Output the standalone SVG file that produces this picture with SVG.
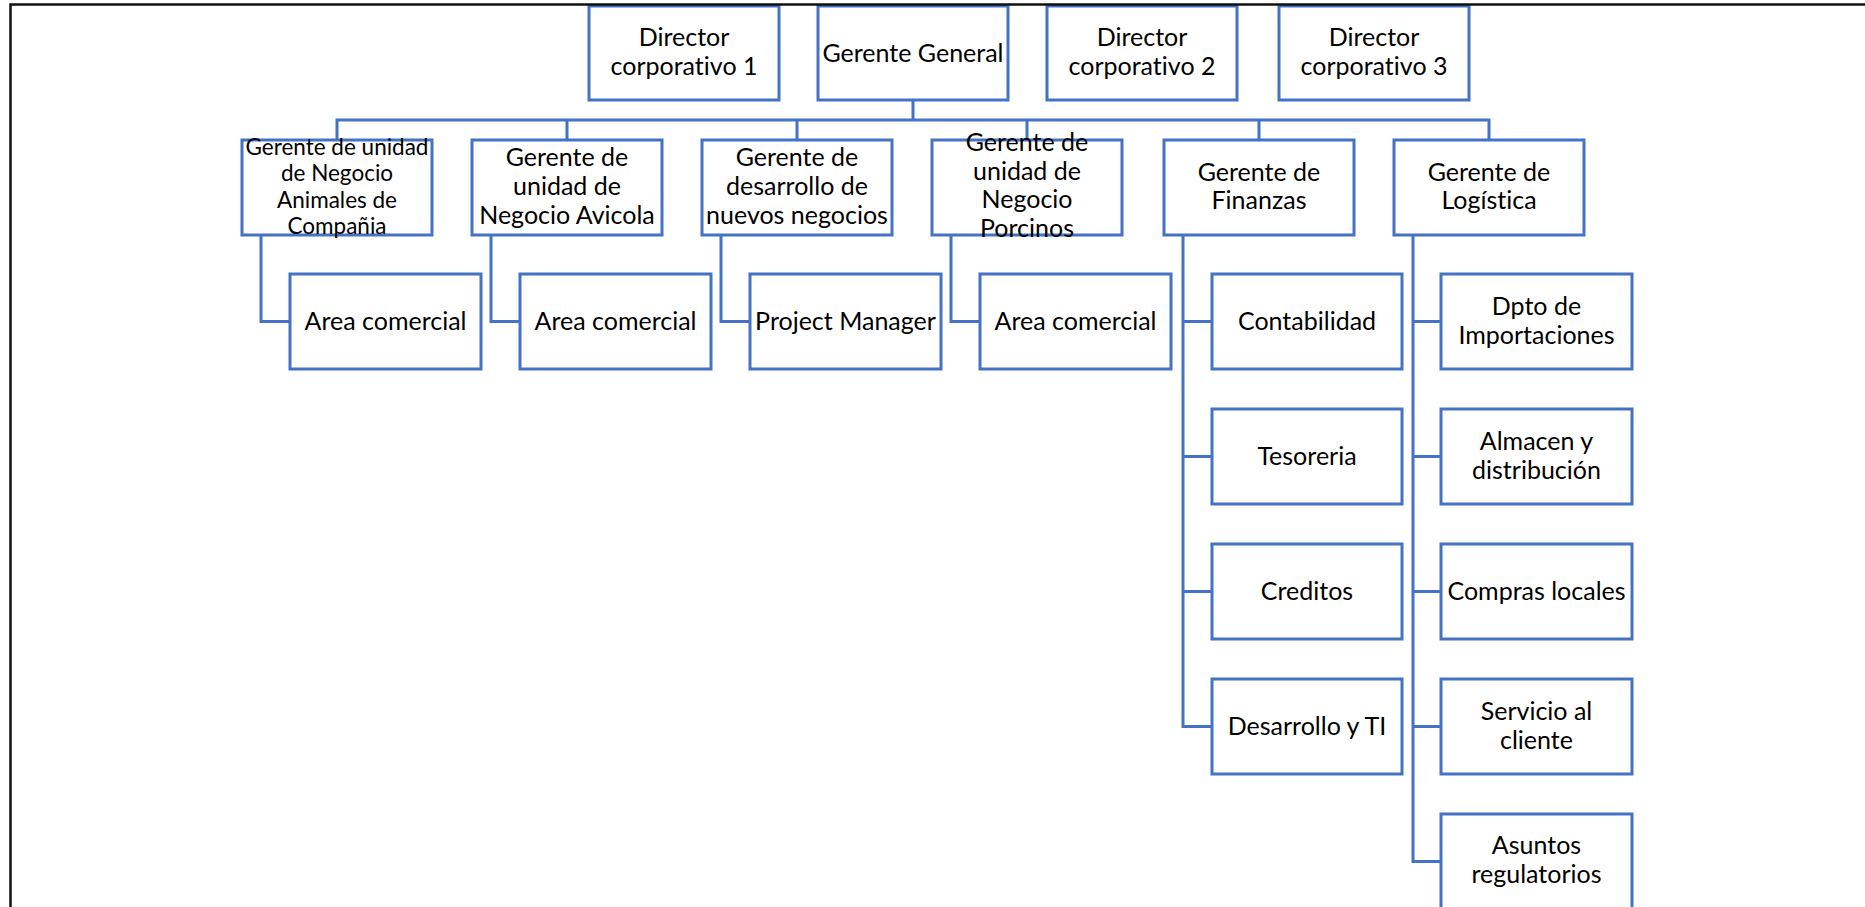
<svg xmlns="http://www.w3.org/2000/svg" width="1865" height="907" viewBox="0 0 1865 907">
<style>
.box{fill:#ffffff;stroke:#4472C4;stroke-width:3}
.ln{fill:none;stroke:#4472C4;stroke-width:3}
.t{font-family:Lato,"Liberation Sans",sans-serif;font-size:25px;fill:#000000;text-anchor:middle;font-variant-ligatures:none;font-feature-settings:"liga" 0,"dlig" 0}
.s{font-size:22.5px}
.frame{fill:none;stroke:#111111;stroke-width:2.5}
</style>
<rect x="0" y="0" width="1865" height="907" fill="#ffffff"/>

<g id="connectors">
<path class="ln" d="M913,100 V120"/>
<path class="ln" d="M337,140 V120 H1489 V140"/>
<path class="ln" d="M567,120 V140 M797,120 V140 M1027,120 V140 M1259,120 V140"/>
<path class="ln" d="M261,235 V321.5 H290"/>
<path class="ln" d="M491,235 V321.5 H520"/>
<path class="ln" d="M721,235 V321.5 H750"/>
<path class="ln" d="M951,235 V321.5 H980"/>
<path class="ln" d="M1183,235 V726.5 H1212 M1183,321.5 H1212 M1183,456.5 H1212 M1183,591.5 H1212"/>
<path class="ln" d="M1413,235 V861.5 H1441 M1413,321.5 H1441 M1413,456.5 H1441 M1413,591.5 H1441 M1413,726.5 H1441"/>
</g>

<g id="dir1"><rect class="box" x="589" y="6" width="190" height="94"/><text class="t" x="684" y="46">Director</text><text class="t" x="684" y="75">corporativo 1</text></g>
<g id="gerente-general"><rect class="box" x="818" y="6" width="190" height="94"/><text class="t" x="913" y="62">Gerente General</text></g>
<g id="dir2"><rect class="box" x="1047" y="6" width="190" height="94"/><text class="t" x="1142" y="46">Director</text><text class="t" x="1142" y="75">corporativo 2</text></g>
<g id="dir3"><rect class="box" x="1279" y="6" width="190" height="94"/><text class="t" x="1374" y="46">Director</text><text class="t" x="1374" y="75">corporativo 3</text></g>

<g id="animales"><rect class="box" x="242" y="140" width="190" height="95"/>
<text class="t s" x="337" y="155">Gerente de unidad</text><text class="t s" x="337" y="181">de Negocio</text><text class="t s" x="337" y="208">Animales de</text><text class="t s" x="337" y="234">Compañia</text></g>
<g id="avicola"><rect class="box" x="472" y="140" width="190" height="95"/>
<text class="t" x="567" y="166">Gerente de</text><text class="t" x="567" y="195">unidad de</text><text class="t" x="567" y="224">Negocio Avicola</text></g>
<g id="desarrollo"><rect class="box" x="702" y="140" width="190" height="95"/>
<text class="t" x="797" y="166">Gerente de</text><text class="t" x="797" y="195">desarrollo de</text><text class="t" x="797" y="224">nuevos negocios</text></g>
<g id="porcinos"><rect class="box" x="932" y="140" width="190" height="95"/>
<text class="t" x="1027" y="151">Gerente de</text><text class="t" x="1027" y="180">unidad de</text><text class="t" x="1027" y="208">Negocio</text><text class="t" x="1027" y="237">Porcinos</text></g>
<g id="finanzas"><rect class="box" x="1164" y="140" width="190" height="95"/>
<text class="t" x="1259" y="181">Gerente de</text><text class="t" x="1259" y="209">Finanzas</text></g>
<g id="logistica"><rect class="box" x="1394" y="140" width="190" height="95"/>
<text class="t" x="1489" y="181">Gerente de</text><text class="t" x="1489" y="209">Logística</text></g>

<g id="area1"><rect class="box" x="290" y="274" width="191" height="95"/><text class="t" x="385.5" y="330">Area comercial</text></g>
<g id="area2"><rect class="box" x="520" y="274" width="191" height="95"/><text class="t" x="615.5" y="330">Area comercial</text></g>
<g id="pm"><rect class="box" x="750" y="274" width="191" height="95"/><text class="t" x="845.5" y="330">Project Manager</text></g>
<g id="area3"><rect class="box" x="980" y="274" width="191" height="95"/><text class="t" x="1075.5" y="330">Area comercial</text></g>

<g id="contabilidad"><rect class="box" x="1212" y="274" width="190" height="95"/><text class="t" x="1307" y="330">Contabilidad</text></g>
<g id="tesoreria"><rect class="box" x="1212" y="409" width="190" height="95"/><text class="t" x="1307" y="465">Tesoreria</text></g>
<g id="creditos"><rect class="box" x="1212" y="544" width="190" height="95"/><text class="t" x="1307" y="600">Creditos</text></g>
<g id="desarrollo-ti"><rect class="box" x="1212" y="679" width="190" height="95"/><text class="t" x="1307" y="735">Desarrollo y TI</text></g>

<g id="importaciones"><rect class="box" x="1441" y="274" width="191" height="95"/><text class="t" x="1536.5" y="315">Dpto de</text><text class="t" x="1536.5" y="344">Importaciones</text></g>
<g id="almacen"><rect class="box" x="1441" y="409" width="191" height="95"/><text class="t" x="1536.5" y="450">Almacen y</text><text class="t" x="1536.5" y="479">distribución</text></g>
<g id="compras"><rect class="box" x="1441" y="544" width="191" height="95"/><text class="t" x="1536.5" y="600">Compras locales</text></g>
<g id="servicio"><rect class="box" x="1441" y="679" width="191" height="95"/><text class="t" x="1536.5" y="720">Servicio al</text><text class="t" x="1536.5" y="749">cliente</text></g>
<g id="asuntos"><rect class="box" x="1441" y="814" width="191" height="95"/><text class="t" x="1536.5" y="854">Asuntos</text><text class="t" x="1536.5" y="883">regulatorios</text></g>

<path class="frame" d="M10.5,907 V4.5 H1865"/>
</svg>
